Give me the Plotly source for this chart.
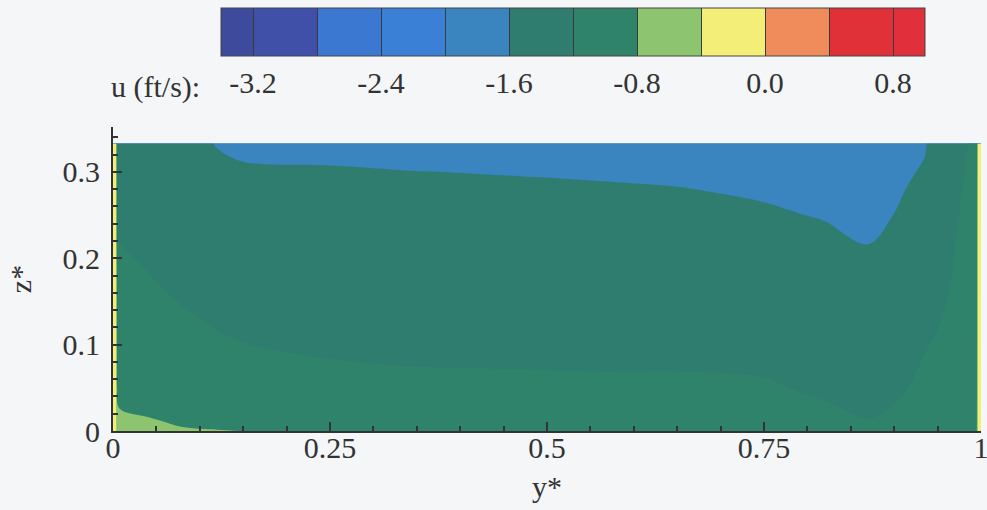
import plotly.graph_objects as go

# ---- data ----
# horizontal coordinate y* (columns) and vertical coordinate z* (rows)
Y_STAR = [0, 0.0035, 0.005, 0.04, 0.08, 0.12, 0.16, 0.25, 0.35, 0.45, 0.55,
          0.65, 0.75, 0.82, 0.87, 0.90, 0.935, 0.97, 0.995, 0.9965, 1.0]
Z_STAR = [0, 0.012, 0.025, 0.05, 0.08, 0.12, 0.17, 0.215, 0.25, 0.28, 0.30,
          0.315, 0.333]

# u (ft/s) profiles, one list per y* column, bottom (z*=0) to top
U_BY_COLUMN = [
    [-0.1, -0.1, -0.1, -0.1, -0.1, -0.1, -0.1, -0.1, -0.1, -0.1, -0.1, -0.1, -0.1],
    [-0.38, -0.38, -0.38, -0.38, -0.38, -0.38, -0.38, -0.38, -0.38, -0.38, -0.38, -0.38, -0.38],
    [-0.55, -0.65, -0.79, -0.9, -0.95, -1.0, -1.08, -1.19, -1.25, -1.3, -1.33, -1.35, -1.37],
    [-0.68, -0.77, -0.86, -0.95, -1.02, -1.09, -1.17, -1.26, -1.32, -1.38, -1.42, -1.45, -1.48],
    [-0.77, -0.85, -0.92, -1.0, -1.07, -1.14, -1.26, -1.35, -1.41, -1.46, -1.5, -1.53, -1.56],
    [-0.79, -0.87, -0.94, -1.03, -1.11, -1.21, -1.33, -1.42, -1.48, -1.53, -1.57, -1.59, -1.605],
    [-0.805, -0.9, -0.97, -1.06, -1.15, -1.25, -1.36, -1.45, -1.5, -1.55, -1.58, -1.61, -1.66],
    [-0.9, -0.95, -1.0, -1.09, -1.19, -1.3, -1.4, -1.47, -1.52, -1.56, -1.59, -1.61, -1.68],
    [-0.92, -0.97, -1.02, -1.11, -1.22, -1.32, -1.42, -1.49, -1.53, -1.57, -1.598, -1.63, -1.7],
    [-0.93, -0.98, -1.03, -1.12, -1.23, -1.33, -1.43, -1.5, -1.54, -1.58, -1.605, -1.64, -1.72],
    [-0.93, -0.98, -1.03, -1.13, -1.24, -1.34, -1.44, -1.51, -1.55, -1.585, -1.615, -1.65, -1.73],
    [-0.94, -0.99, -1.04, -1.13, -1.24, -1.35, -1.45, -1.52, -1.56, -1.595, -1.63, -1.67, -1.75],
    [-0.97, -1.02, -1.07, -1.16, -1.26, -1.37, -1.47, -1.54, -1.58, -1.62, -1.66, -1.7, -1.78],
    [-1.05, -1.1, -1.16, -1.26, -1.34, -1.42, -1.5, -1.56, -1.61, -1.65, -1.68, -1.71, -1.78],
    [-1.12, -1.19, -1.25, -1.33, -1.4, -1.47, -1.54, -1.599, -1.63, -1.66, -1.68, -1.7, -1.76],
    [-1.06, -1.13, -1.18, -1.26, -1.33, -1.41, -1.49, -1.55, -1.598, -1.63, -1.65, -1.67, -1.7],
    [-0.98, -1.03, -1.07, -1.13, -1.18, -1.26, -1.36, -1.44, -1.5, -1.55, -1.58, -1.598, -1.62],
    [-0.9, -0.95, -0.99, -1.04, -1.09, -1.13, -1.17, -1.2, -1.24, -1.28, -1.31, -1.33, -1.35],
    [-0.85, -0.88, -0.9, -0.93, -0.95, -0.97, -0.99, -1.0, -1.02, -1.04, -1.06, -1.08, -1.1],
    [-0.38, -0.38, -0.38, -0.38, -0.38, -0.38, -0.38, -0.38, -0.38, -0.38, -0.38, -0.38, -0.38],
    [-0.1, -0.1, -0.1, -0.1, -0.1, -0.1, -0.1, -0.1, -0.1, -0.1, -0.1, -0.1, -0.1],
]

# contour levels and colour of each band
LEVEL_START = -3.2
LEVEL_END = 0.8
LEVEL_STEP = 0.4
BAND_COLORS = ["#3e4a9c", "#4050a8", "#3a78d2", "#3a80d6", "#3a84c0", "#2e7d6e",
               "#2f836a", "#8cc470", "#f2ee78", "#f08c5c", "#e03038", "#e0303c"]
CBAR_TICKS = [-3.2, -2.4, -1.6, -0.8, 0.0, 0.8]
X_TICKS = [0, 0.25, 0.5, 0.75, 1]
Y_TICKS = [0, 0.1, 0.2, 0.3]

# ---- build figure ----
U_GRID = [list(row) for row in zip(*U_BY_COLUMN)]  # rows = z*, cols = y*

lo = LEVEL_START - LEVEL_STEP / 2
hi = LEVEL_END + LEVEL_STEP / 2
n_lev = int(round((LEVEL_END - LEVEL_START) / LEVEL_STEP)) + 1
bounds = [0.0] + [((LEVEL_START + i * LEVEL_STEP) - lo) / (hi - lo) for i in range(n_lev)] + [1.0]
colorscale = []
for i, c in enumerate(BAND_COLORS):
    colorscale.append([bounds[i], c])
    colorscale.append([bounds[i + 1], c])

FONT = "Liberation Serif, Times New Roman, serif"
INK = "#333333"
BG = "#f4f6f8"

contours = dict(start=LEVEL_START, end=LEVEL_END, size=LEVEL_STEP, coloring="fill")

fig = go.Figure()
fig.add_trace(go.Contour(
    x=Y_STAR, y=Z_STAR, z=U_GRID,
    autocontour=False, contours=dict(contours, showlines=False),
    colorscale=colorscale, showscale=False, line=dict(width=0),
    hoverinfo="skip",
))
# same field, invisible, only used to draw the colour bar with level separators
fig.add_trace(go.Contour(
    x=Y_STAR, y=Z_STAR, z=U_GRID,
    autocontour=False, contours=dict(contours, showlines=True),
    colorscale=colorscale, opacity=0, line=dict(width=1, color="#3a3a3a"),
    hoverinfo="skip",
    colorbar=dict(
        orientation="h", thickness=48, thicknessmode="pixels",
        len=704, lenmode="pixels", x=0.53, xanchor="center",
        y=1.256, yanchor="middle", xpad=0, ypad=0,
        outlinewidth=1, outlinecolor="#444444",
        tickmode="array", tickvals=CBAR_TICKS,
        ticktext=[f"{v:.1f}" for v in CBAR_TICKS],
        ticks="", tickfont=dict(family=FONT, size=30, color=INK),
    ),
))

fig.add_annotation(text="u (ft/s):", xref="paper", yref="paper",
                   x=0.1025, y=1.1316, xanchor="right", yanchor="middle",
                   showarrow=False, font=dict(family=FONT, size=30, color=INK))

axis_common = dict(
    showgrid=False, zeroline=False, showline=True, linecolor=INK, linewidth=2,
    ticks="inside", ticklen=9, tickwidth=2, tickcolor=INK,
    tickfont=dict(family=FONT, size=30, color=INK), automargin=False,
    ticklabeloverflow="allow",
)
fig.update_xaxes(
    range=[0, 1], tickmode="array", tickvals=X_TICKS,
    ticktext=[f"{v:g}" for v in X_TICKS], ticklabelstandoff=-11,
    minor=dict(tickmode="linear", tick0=0, dtick=0.05, ticks="inside",
               ticklen=5, tickwidth=1.5, tickcolor=INK),
    title=dict(text="y*", font=dict(family=FONT, size=30, color=INK), standoff=13),
    **axis_common,
)
fig.update_yaxes(
    range=[0, 0.352], tickmode="array", tickvals=Y_TICKS,
    ticktext=[f"{v:g}" for v in Y_TICKS], ticklabelstandoff=5,
    minor=dict(tickmode="linear", tick0=0, dtick=0.02, ticks="inside",
               ticklen=5, tickwidth=1.5, tickcolor=INK),
    title=dict(text="z*", font=dict(family=FONT, size=30, color=INK), standoff=22),
    **axis_common,
)

fig.update_layout(
    width=987, height=510,
    margin=dict(l=113, r=6, t=127, b=79, autoexpand=False),
    paper_bgcolor=BG, plot_bgcolor=BG,
    showlegend=False,
)

fig.write_html("out.html")
